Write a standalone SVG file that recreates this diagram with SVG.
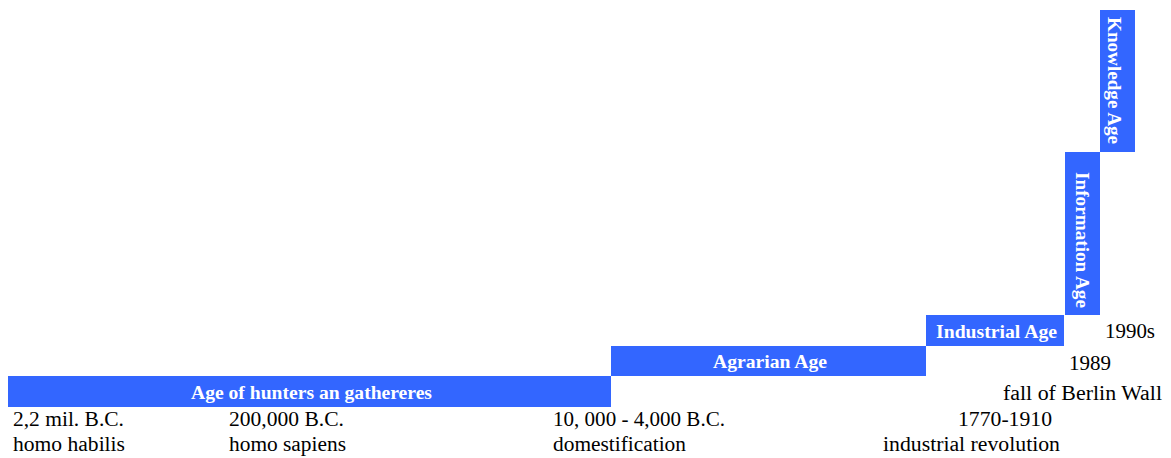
<svg xmlns="http://www.w3.org/2000/svg" width="1171" height="458" viewBox="0 0 1171 458">
  <style>
    .bar { fill: #3366ff; }
    .age { font-family: "Liberation Serif", "Times New Roman", serif; font-weight: bold; font-size: 18px; fill: #ffffff; }
    .lbl { font-family: "Liberation Serif", "Times New Roman", serif; font-size: 20px; fill: #000000; }
  </style>
  <rect width="1171" height="458" fill="#ffffff"/>

  <!-- ages as a rising staircase -->
  <g id="age-hunters">
    <rect class="bar" x="8" y="376" width="603" height="31"/>
    <text class="age" x="191" y="399" textLength="241" lengthAdjust="spacingAndGlyphs">Age of hunters an gathereres</text>
  </g>
  <g id="age-agrarian">
    <rect class="bar" x="611" y="346" width="315" height="30"/>
    <text class="age" x="713" y="368" textLength="114" lengthAdjust="spacingAndGlyphs">Agrarian Age</text>
  </g>
  <g id="age-industrial">
    <rect class="bar" x="926" y="315" width="138" height="31"/>
    <text class="age" x="936" y="338" textLength="121" lengthAdjust="spacingAndGlyphs">Industrial Age</text>
  </g>
  <g id="age-information">
    <rect class="bar" x="1065" y="152" width="35" height="163"/>
    <text class="age" transform="translate(1076,172) rotate(90)" textLength="136" lengthAdjust="spacingAndGlyphs">Information Age</text>
  </g>
  <g id="age-knowledge">
    <rect class="bar" x="1100" y="10" width="35" height="142"/>
    <text class="age" transform="translate(1108,17) rotate(90)" textLength="127" lengthAdjust="spacingAndGlyphs">Knowledge Age</text>
  </g>

  <!-- milestones -->
  <g id="m-habilis">
    <text class="lbl" x="13" y="426" textLength="111" lengthAdjust="spacingAndGlyphs">2,2 mil. B.C.</text>
    <text class="lbl" x="13" y="451" textLength="112" lengthAdjust="spacingAndGlyphs">homo habilis</text>
  </g>
  <g id="m-sapiens">
    <text class="lbl" x="229" y="426" textLength="115" lengthAdjust="spacingAndGlyphs">200,000 B.C.</text>
    <text class="lbl" x="229" y="451" textLength="117" lengthAdjust="spacingAndGlyphs">homo sapiens</text>
  </g>
  <g id="m-domestification">
    <text class="lbl" x="553" y="426" textLength="172" lengthAdjust="spacingAndGlyphs">10, 000 - 4,000 B.C.</text>
    <text class="lbl" x="553" y="451" textLength="133" lengthAdjust="spacingAndGlyphs">domestification</text>
  </g>
  <g id="m-industrial">
    <text class="lbl" x="958" y="426" textLength="94" lengthAdjust="spacingAndGlyphs">1770-1910</text>
    <text class="lbl" x="883" y="451" textLength="177" lengthAdjust="spacingAndGlyphs">industrial revolution</text>
  </g>
  <g id="m-berlin">
    <text class="lbl" x="1069" y="370" textLength="42" lengthAdjust="spacingAndGlyphs">1989</text>
    <text class="lbl" x="1003" y="400" textLength="159" lengthAdjust="spacingAndGlyphs">fall of Berlin Wall</text>
  </g>
  <g id="m-1990s">
    <text class="lbl" x="1105" y="338" textLength="50" lengthAdjust="spacingAndGlyphs">1990s</text>
  </g>
</svg>
